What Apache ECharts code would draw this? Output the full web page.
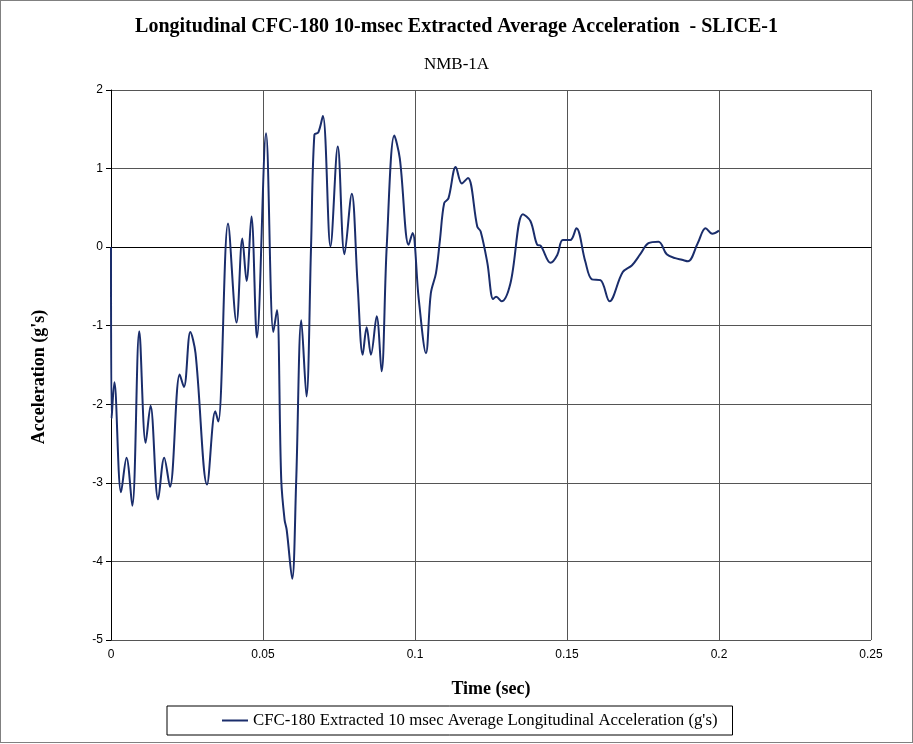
<!DOCTYPE html>
<html>
<head>
<meta charset="utf-8">
<script src="https://cdn.jsdelivr.net/npm/echarts@6/dist/echarts.min.js"></script>
<style>
  html, body { margin: 0; padding: 0; background: #fff; }
  #chart { width: 911px; height: 741px; border: 1px solid #808080; }
</style>
</head>
<body>
<div id="chart"></div>
<script>
// time (sec) and acceleration (g's)
var time = [
  0, 0.0002, 0.0011, 0.0033, 0.0051, 0.0070, 0.0093, 0.0114, 0.0130, 0.0155,
  0.0175, 0.0194, 0.0226, 0.0240, 0.0261, 0.0278, 0.0316, 0.0343, 0.0353, 0.0385,
  0.0413, 0.0432, 0.0446, 0.0462, 0.0480, 0.0510, 0.0534, 0.0546, 0.0560, 0.0571,
  0.0578, 0.0596, 0.0609, 0.0626, 0.0643, 0.0658, 0.0669, 0.0682, 0.0697, 0.0722,
  0.0746, 0.0768, 0.0792, 0.0811, 0.0828, 0.0841, 0.0855, 0.0874, 0.0890, 0.0907,
  0.0932, 0.0950, 0.0979, 0.0992, 0.1012, 0.1036, 0.1052, 0.1069, 0.1082, 0.1096,
  0.1110, 0.1134, 0.1154, 0.1174, 0.1205, 0.1216, 0.1238, 0.1257, 0.1267, 0.1285,
  0.1314, 0.1355, 0.1380, 0.1402, 0.1413, 0.1446, 0.1468, 0.1486, 0.1511, 0.1531,
  0.1560, 0.1582, 0.1610, 0.1640, 0.1683, 0.1714, 0.1741, 0.1768, 0.1801, 0.1828,
  0.1856, 0.1878, 0.1898, 0.1930, 0.1956, 0.1978, 0.2000
];
var accel = [
  0, -2.18, -1.72, -3.12, -2.68, -3.29, -1.07, -2.49, -2.02, -3.21,
  -2.68, -3.05, -1.62, -1.78, -1.08, -1.35, -3.02, -2.09, -2.22, 0.30,
  -0.96, 0.11, -0.43, 0.39, -1.15, 1.45, -1.08, -0.80, -2.96, -3.47,
  -3.60, -4.22, -3.00, -0.93, -1.90, 0.00, 1.43, 1.46, 1.67, 0.01,
  1.28, -0.09, 0.68, -0.46, -1.37, -1.02, -1.37, -0.88, -1.58, 0.01,
  1.42, 1.13, 0.03, 0.18, -0.65, -1.35, -0.59, -0.33, 0.09, 0.56,
  0.62, 1.02, 0.81, 0.88, 0.26, 0.20, -0.20, -0.66, -0.63, -0.69,
  -0.46, 0.42, 0.33, 0.03, 0.02, -0.20, -0.10, 0.09, 0.09, 0.24,
  -0.18, -0.41, -0.42, -0.69, -0.32, -0.23, -0.09, 0.05, 0.07, -0.09,
  -0.14, -0.16, -0.18, 0.05, 0.24, 0.17, 0.21
];
var seriesName = "CFC-180 Extracted 10 msec Average Longitudinal Acceleration (g's)";

var serif = "'Liberation Serif', 'Times New Roman', serif";
var sans = "'Liberation Sans', Arial, sans-serif";

var chartDom = document.getElementById("chart");
var myChart = echarts.init(chartDom);

var option = {
  animation: false,
  backgroundColor: "#fff",
  title: [
    {
      text: "Longitudinal CFC-180 10-msec Extracted Average Acceleration  - SLICE-1",
      left: "center",
      top: 11,
      textStyle: { fontFamily: serif, fontSize: 20, fontWeight: "bold", color: "#000" }
    },
    {
      text: "NMB-1A",
      left: "center",
      top: 50,
      textStyle: { fontFamily: serif, fontSize: 17, fontWeight: "normal", color: "#000" }
    }
  ],
  legend: {
    left: 166,
    top: 705,
    itemWidth: 26,
    itemHeight: 2,
    padding: [6, 15, 6, 55],
    borderColor: "#000",
    borderWidth: 1,
    icon: "rect",
    textStyle: { fontFamily: serif, fontSize: 16.8, color: "#000" },
    data: [seriesName]
  },
  grid: { left: 110, top: 89, right: 41, bottom: 102 },
  xAxis: {
    type: "value",
    min: 0,
    max: 0.25,
    interval: 0.05,
    name: "Time (sec)",
    nameLocation: "middle",
    nameGap: 40,
    nameTextStyle: { fontFamily: serif, fontSize: 18, fontWeight: "bold", color: "#000" },
    axisLine: { lineStyle: { color: "#000" } },
    axisTick: { show: false },
    axisLabel: { fontFamily: sans, fontSize: 12, color: "#000", margin: 9 },
    splitLine: { show: true, lineStyle: { color: "#555", width: 1 } }
  },
  yAxis: {
    type: "value",
    min: -5,
    max: 2,
    interval: 1,
    name: "Acceleration (g's)",
    nameLocation: "middle",
    nameGap: 63,
    nameTextStyle: {
      fontFamily: serif, fontSize: 18, fontWeight: "bold", color: "#000",
      padding: [0, 24, 0, 0]
    },
    axisLine: { show: true, lineStyle: { color: "#000" } },
    axisTick: { show: true, length: 5, lineStyle: { color: "#000" } },
    axisLabel: { fontFamily: sans, fontSize: 12, color: "#000", margin: 8 },
    splitLine: { show: true, lineStyle: { color: "#555", width: 1 } }
  },
  series: [
    {
      name: seriesName,
      type: "line",
      smooth: 0.35,
      symbol: "none",
      color: "#1a2d6b",
      lineStyle: { width: 2, color: "#1a2d6b" },
      data: time.map(function (t, i) { return [t, accel[i]]; })
    }
  ]
};

option && myChart.setOption(option);
</script>
</body>
</html>
